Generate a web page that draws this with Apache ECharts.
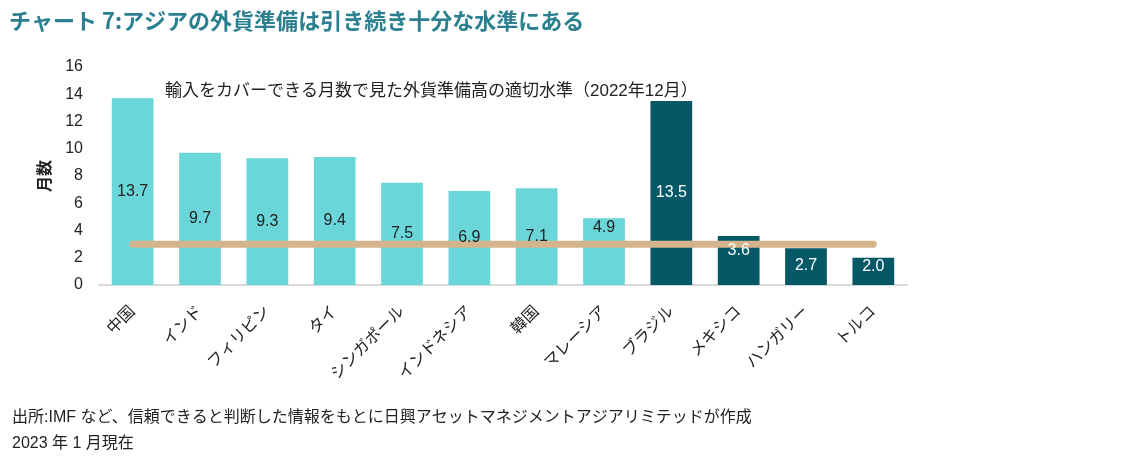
<!DOCTYPE html>
<html><head><meta charset="utf-8">
<script src="https://cdn.jsdelivr.net/npm/echarts@6/dist/echarts.min.js"></script>
<style>html,body{margin:0;padding:0;background:#fff}#c{width:1125px;height:469px}</style>
</head><body><div id="c"></div>
<script>
const categories = ['中国','インド','フィリピン','タイ','シンガポール','インドネシア','韓国','マレーシア','ブラジル','メキシコ','ハンガリー','トルコ'];
const monthsOfImports = [13.7, 9.7, 9.3, 9.4, 7.5, 6.9, 7.1, 4.9, 13.5, 3.6, 2.7, 2.0];
const isAsia = [true,true,true,true,true,true,true,true,false,false,false,false];
const adequateLevel = 3;
const yTicks = {min: 0, max: 16, interval: 2};
const titleText = 'チャート 7:アジアの外貨準備は引き続き十分な水準にある';
const noteText = '輸入をカバーできる月数で見た外貨準備高の適切水準（2022年12月）';
const sourceText = '出所:IMF など、信頼できると判断した情報をもとに日興アセットマネジメントアジアリミテッドが作成';
const dateText = '2023 年 1 月現在';
const yName = '月数';

const FONT = "'Liberation Sans', 'Noto Sans CJK JP', sans-serif";
const LIGHT = '#6AD6D9', DARK = '#055866', TAN = '#D4B48C';
const topLabelDist = {7: 1, 9: 7, 10: 9, 11: 1};

const chart = echarts.init(document.getElementById('c'));
chart.setOption({
  animation: false,
  textStyle: {fontFamily: FONT},
  title: [
    {text: titleText, left: 4, top: 5, textStyle: {fontFamily: "'Noto Sans CJK JP', sans-serif", fontSize: 22, fontWeight: 'bold', color: '#2B8090'}},
    {text: noteText, left: 160, top: 78, textStyle: {fontFamily: FONT, fontSize: 17, fontWeight: 'normal', color: '#222'}},
    {text: sourceText, left: 7, top: 405, textStyle: {fontFamily: FONT, fontSize: 16, fontWeight: 'normal', color: '#222'}},
    {text: dateText, left: 7, top: 431, textStyle: {fontFamily: FONT, fontSize: 16, fontWeight: 'normal', color: '#222'}}
  ],
  grid: {left: 99, right: 218, top: 67, bottom: 184},
  xAxis: {
    type: 'category', data: categories,
    axisLine: {lineStyle: {color: '#D9D9D9', width: 2}},
    axisTick: {show: false},
    axisLabel: {rotate: 45, fontSize: 16, color: '#222', fontFamily: FONT, margin: 24}
  },
  yAxis: {
    type: 'value', min: yTicks.min, max: yTicks.max, interval: yTicks.interval,
    name: yName, nameLocation: 'middle', nameGap: 45, nameRotate: 90,
    nameTextStyle: {fontSize: 16, color: '#222', fontFamily: FONT, fontWeight: 'bold'},
    axisLine: {show: false}, axisTick: {show: false}, splitLine: {show: false},
    axisLabel: {fontSize: 16, color: '#222', fontFamily: FONT, margin: 16}
  },
  series: [
    {
      type: 'bar', z: 2, barWidth: '62%',
      data: monthsOfImports.map((v, i) => ({value: v, itemStyle: {color: isAsia[i] ? LIGHT : DARK}})),
      label: {show: false}
    },
    {
      type: 'line', z: 3, symbol: 'none', silent: true,
      data: categories.map(() => adequateLevel),
      lineStyle: {color: TAN, width: 7, cap: 'round'}
    },
    {
      type: 'bar', z: 5, barWidth: '62%', barGap: '-100%',
      data: monthsOfImports.map((v, i) => ({
        value: v, itemStyle: {color: 'rgba(0,0,0,0)'},
        label: (i in topLabelDist)
          ? {position: 'insideTop', distance: topLabelDist[i], color: isAsia[i] ? '#222' : '#fff'}
          : {position: 'inside', color: isAsia[i] ? '#222' : '#fff'}
      })),
      label: {show: true, fontSize: 16, fontFamily: FONT, formatter: p => p.value.toFixed(1)}
    }
  ]
});
</script></body></html>
